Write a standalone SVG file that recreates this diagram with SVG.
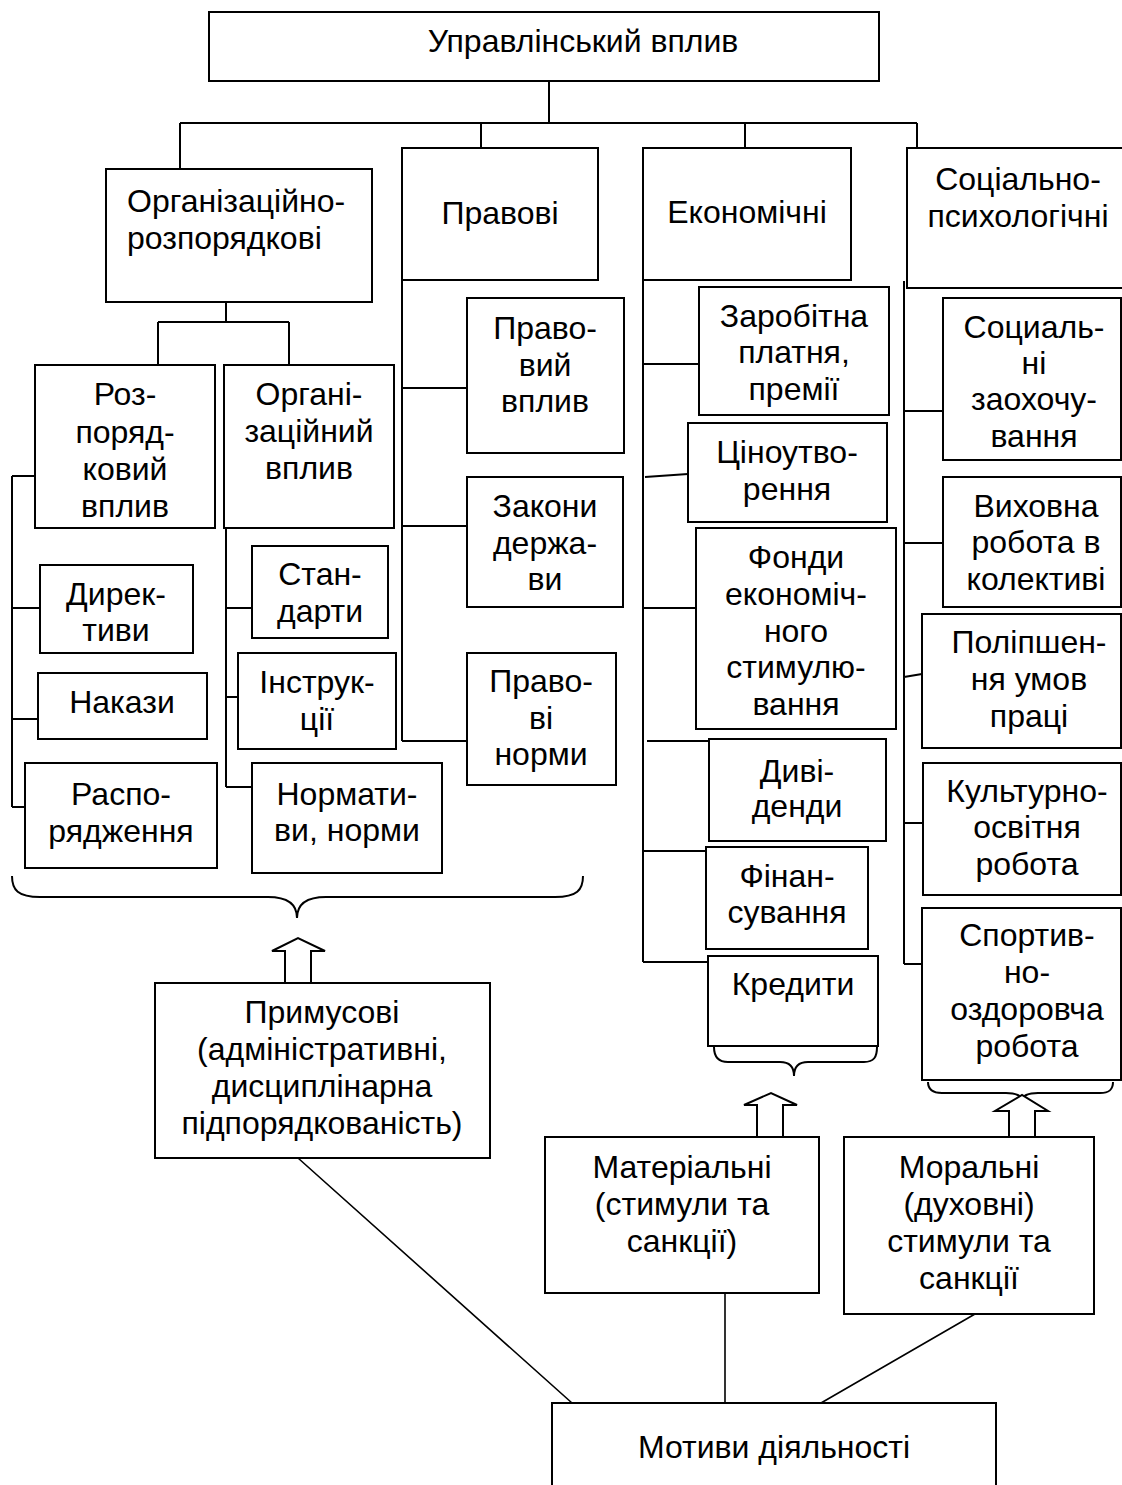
<svg xmlns="http://www.w3.org/2000/svg" width="1122" height="1485" viewBox="0 0 1122 1485">
  <style>
    .box { fill: #fff; stroke: #000; stroke-width: 2; }
    .ln { fill: none; stroke: #000; stroke-width: 2; }
    .thin { fill: none; stroke: #000; stroke-width: 1.6; }
    .arr { fill: #fff; stroke: #000; stroke-width: 2; stroke-linejoin: miter; }
    text { font-family: "Liberation Sans", Arial, sans-serif; font-size: 32px; fill: #000; text-anchor: middle; }
    .left { text-anchor: start; }
  </style>
  <rect width="1122" height="1485" fill="#fff"/>

  <!-- connectors -->
  <g id="connectors">
    <!-- root to first level -->
    <path class="ln" d="M549,81 V123 M180,123 H917 M180,123 V169 M481,123 V148 M745,123 V148 M917,123 V148"/>
    <!-- organisational branch split -->
    <path class="ln" d="M226,302 V322 M158,322 H289 M158,322 V365 M289,322 V365"/>
    <!-- administrative orders rail -->
    <path class="ln" d="M12,476 V807 M12,476 H35 M12,608 H40 M12,719 H38 M12,807 H25"/>
    <!-- organisational influence rail -->
    <path class="ln" d="M226,528 V787 M226,608 H252 M226,697 H238 M226,787 H252"/>
    <!-- legal rail -->
    <path class="ln" d="M402,280 V741 M402,388 H467 M402,526 H467 M402,741 H467"/>
    <!-- economic rail -->
    <path class="ln" d="M643,280 V962 M643,364 H699 M645,477 L688,474 M643,608 H696 M647,741 H709 M643,851 H706 M643,962 H708"/>
    <!-- socio-psychological rail -->
    <path class="ln" d="M904,281 V964 M904,411 H943 M904,543 H943 M904,677 L922,674 M904,823 H923 M904,964 H922"/>
    <!-- braces -->
    <path class="ln" d="M12,876 C12,890 18,897 40,897 L268,897 C288,897 297,905 297,918 C297,905 306,897 326,897 L555,897 C577,897 583,890 583,876"/>
    <path class="ln" d="M714,1047 C714,1057 718,1062 728,1062 L780,1062 C790,1062 794,1068 794,1076 C794,1068 798,1062 808,1062 L864,1062 C874,1062 877,1057 877,1047"/>
    <path class="ln" d="M928,1082 C928,1089 932,1093 942,1093 L1006,1093 C1016,1093 1022,1096 1022,1100 C1022,1096 1028,1093 1038,1093 L1100,1093 C1110,1093 1113,1089 1113,1082"/>
    <!-- block arrows -->
    <path class="arr" d="M285,983 V951 H272 L298,938 L325,951 H311 V983"/>
    <path class="arr" d="M757,1137 V1105 H744 L771,1093 L797,1105 H783 V1137"/>
    <path class="arr" d="M1009,1137 V1111 H995 L1022,1095 L1048,1111 H1035 V1137"/>
    <!-- links to motives -->
    <path class="thin" d="M298,1158 L572,1403 M725,1293 V1403 M975,1314 L821,1403"/>
  </g>

  <g id="n-root">
    <rect class="box" x="209" y="12" width="670" height="69"/>
    <text x="583" y="52">Управлінський вплив</text>
  </g>

  <g id="n-org-admin">
    <rect class="box" x="106" y="169" width="266" height="133"/>
    <text class="left" x="127" y="212">Організаційно-</text>
    <text class="left" x="127" y="249">розпорядкові</text>
  </g>
  <g id="n-legal">
    <rect class="box" x="402" y="148" width="196" height="132"/>
    <text x="500" y="224">Правові</text>
  </g>
  <g id="n-economic">
    <rect class="box" x="643" y="148" width="208" height="132"/>
    <text x="747" y="223">Економічні</text>
  </g>
  <g id="n-sociopsych">
    <rect class="box" x="907" y="148" width="240" height="140"/>
    <text x="1018" y="190">Соціально-</text>
    <text x="1018" y="227">психологічні</text>
  </g>

  <g id="n-admin-influence">
    <rect class="box" x="35" y="365" width="180" height="163"/>
    <text x="125" y="405">Роз-</text>
    <text x="125" y="443">поряд-</text>
    <text x="125" y="480">ковий</text>
    <text x="125" y="517">вплив</text>
  </g>
  <g id="n-org-influence">
    <rect class="box" x="224" y="365" width="170" height="163"/>
    <text x="309" y="405">Органі-</text>
    <text x="309" y="442">заційний</text>
    <text x="309" y="479">вплив</text>
  </g>

  <g id="n-directives">
    <rect class="box" x="40" y="565" width="153" height="88"/>
    <text x="116" y="605">Дирек-</text>
    <text x="116" y="641">тиви</text>
  </g>
  <g id="n-orders">
    <rect class="box" x="38" y="673" width="169" height="66"/>
    <text x="122" y="713">Накази</text>
  </g>
  <g id="n-instructions-admin">
    <rect class="box" x="25" y="763" width="192" height="105"/>
    <text x="121" y="805">Распо-</text>
    <text x="121" y="842">рядження</text>
  </g>

  <g id="n-standards">
    <rect class="box" x="252" y="546" width="136" height="92"/>
    <text x="320" y="585">Стан-</text>
    <text x="320" y="622">дарти</text>
  </g>
  <g id="n-instructions">
    <rect class="box" x="238" y="653" width="158" height="96"/>
    <text x="317" y="693">Інструк-</text>
    <text x="317" y="730">ції</text>
  </g>
  <g id="n-norms">
    <rect class="box" x="252" y="763" width="190" height="110"/>
    <text x="347" y="805">Нормати-</text>
    <text x="347" y="841">ви, норми</text>
  </g>

  <g id="n-legal-influence">
    <rect class="box" x="467" y="298" width="157" height="155"/>
    <text x="545" y="339">Право-</text>
    <text x="545" y="376">вий</text>
    <text x="545" y="412">вплив</text>
  </g>
  <g id="n-state-laws">
    <rect class="box" x="467" y="477" width="156" height="130"/>
    <text x="545" y="517">Закони</text>
    <text x="545" y="554">держа-</text>
    <text x="545" y="590">ви</text>
  </g>
  <g id="n-legal-norms">
    <rect class="box" x="467" y="653" width="149" height="132"/>
    <text x="541" y="692">Право-</text>
    <text x="541" y="729">ві</text>
    <text x="541" y="765">норми</text>
  </g>

  <g id="n-wages">
    <rect class="box" x="699" y="287" width="190" height="128"/>
    <text x="794" y="327">Заробітна</text>
    <text x="794" y="363">платня,</text>
    <text x="794" y="400">премії</text>
  </g>
  <g id="n-pricing">
    <rect class="box" x="688" y="423" width="199" height="99"/>
    <text x="787" y="463">Ціноутво-</text>
    <text x="787" y="500">рення</text>
  </g>
  <g id="n-funds">
    <rect class="box" x="696" y="528" width="200" height="201"/>
    <text x="796" y="568">Фонди</text>
    <text x="796" y="605">економіч-</text>
    <text x="796" y="642">ного</text>
    <text x="796" y="678">стимулю-</text>
    <text x="796" y="715">вання</text>
  </g>
  <g id="n-dividends">
    <rect class="box" x="709" y="739" width="177" height="102"/>
    <text x="797" y="782">Диві-</text>
    <text x="797" y="817">денди</text>
  </g>
  <g id="n-financing">
    <rect class="box" x="706" y="847" width="162" height="102"/>
    <text x="787" y="887">Фінан-</text>
    <text x="787" y="923">сування</text>
  </g>
  <g id="n-credits">
    <rect class="box" x="708" y="956" width="170" height="90"/>
    <text x="793" y="995">Кредити</text>
  </g>

  <g id="n-social-rewards">
    <rect class="box" x="943" y="298" width="178" height="162"/>
    <text x="1034" y="338">Социаль-</text>
    <text x="1034" y="374">ні</text>
    <text x="1034" y="410">заохочу-</text>
    <text x="1034" y="447">вання</text>
  </g>
  <g id="n-education">
    <rect class="box" x="943" y="477" width="178" height="130"/>
    <text x="1036" y="517">Виховна</text>
    <text x="1036" y="553">робота в</text>
    <text x="1036" y="590">колективі</text>
  </g>
  <g id="n-conditions">
    <rect class="box" x="922" y="614" width="199" height="134"/>
    <text x="1029" y="653">Поліпшен-</text>
    <text x="1029" y="690">ня умов</text>
    <text x="1029" y="727">праці</text>
  </g>
  <g id="n-culture">
    <rect class="box" x="923" y="763" width="198" height="132"/>
    <text x="1027" y="802">Культурно-</text>
    <text x="1027" y="838">освітня</text>
    <text x="1027" y="875">робота</text>
  </g>
  <g id="n-sport">
    <rect class="box" x="922" y="908" width="199" height="172"/>
    <text x="1027" y="946">Спортив-</text>
    <text x="1027" y="983">но-</text>
    <text x="1027" y="1020">оздоровча</text>
    <text x="1027" y="1057">робота</text>
  </g>

  <g id="n-coercive">
    <rect class="box" x="155" y="983" width="335" height="175"/>
    <text x="322" y="1023">Примусові</text>
    <text x="322" y="1060">(адміністративні,</text>
    <text x="322" y="1097">дисциплінарна</text>
    <text x="322" y="1134">підпорядкованість)</text>
  </g>
  <g id="n-material">
    <rect class="box" x="545" y="1137" width="274" height="156"/>
    <text x="682" y="1178">Матеріальні</text>
    <text x="682" y="1215">(стимули та</text>
    <text x="682" y="1252">санкції)</text>
  </g>
  <g id="n-moral">
    <rect class="box" x="844" y="1137" width="250" height="177"/>
    <text x="969" y="1178">Моральні</text>
    <text x="969" y="1215">(духовні)</text>
    <text x="969" y="1252">стимули та</text>
    <text x="969" y="1289">санкції</text>
  </g>
  <g id="n-motives">
    <rect class="box" x="552" y="1403" width="444" height="120"/>
    <text x="774" y="1458">Мотиви діяльності</text>
  </g>
</svg>
